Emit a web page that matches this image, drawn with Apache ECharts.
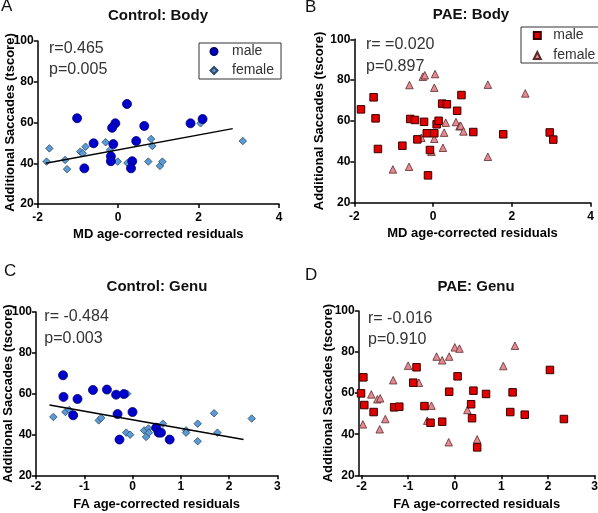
<!DOCTYPE html>
<html>
<head>
<meta charset="utf-8">
<script src="https://cdn.jsdelivr.net/npm/echarts@6/dist/echarts.min.js"></script>
<style>html,body{margin:0;padding:0;background:#fff}#c{width:598px;height:513px}</style>
</head>
<body>
<div id="c"></div>
<script>
// ---- data (x = residual, y = tscore) ----
const ctrlBodyMale = [[0.22,69.1],[-1.02,62.1],[-0.07,59.6],[-0.15,57.4],[0.65,58.3],[1.80,59.6],[2.10,61.7],[-0.61,49.8],[-0.12,49.4],[0.45,50.9],[-0.18,43.4],[-0.18,41.0],[0.35,41.0],[-0.84,37.5],[0.32,37.5]];
const ctrlBodyFemale = [[-1.71,47.3],[-1.78,40.8],[-1.32,41.6],[-1.27,37.1],[-0.94,45.7],[-0.88,44.9],[-0.81,48.1],[-0.31,50.3],[-0.20,46.5],[-0.01,40.8],[0.23,40.1],[0.75,40.8],[0.82,51.9],[0.85,48.5],[1.04,38.7],[1.10,40.8],[2.05,59.6],[3.10,50.9]];
const paeBodyMale = [[-1.83,65.7],[-1.51,71.6],[-1.46,61.3],[-1.40,46.3],[-0.78,47.9],[-0.58,61.0],[-0.46,60.5],[-0.23,59.6],[-0.40,51.0],[-0.16,54.0],[0.03,54.0],[-0.08,45.8],[0.09,58.4],[0.14,60.1],[0.23,68.5],[0.35,68.2],[0.61,65.0],[0.72,72.7],[1.02,54.6],[1.78,53.5],[2.96,54.4],[3.05,50.9],[-0.13,33.4]];
const paeBodyFemale = [[-1.02,36.3],[-0.61,37.6],[-0.60,77.6],[-0.26,81.7],[-0.21,82.4],[0.05,83.0],[0.03,76.3],[-0.30,51.8],[0.03,51.3],[-0.04,44.9],[0.25,46.9],[0.28,54.3],[0.32,59.2],[0.58,59.5],[0.67,57.4],[0.70,57.7],[0.77,54.9],[1.39,77.8],[1.39,42.5],[2.34,73.5]];
const ctrlGenuMale = [[-1.44,69.0],[-1.43,58.4],[-1.14,57.4],[-1.23,49.4],[-0.82,61.8],[-0.53,62.0],[-0.34,59.5],[-0.18,59.8],[-0.31,50.0],[0.00,51.0],[-0.27,37.5],[0.49,43.3],[0.54,40.9],[0.59,40.9],[0.77,37.5]];
const ctrlGenuFemale = [[-1.64,48.6],[-1.39,51.0],[-1.31,52.0],[-0.70,46.9],[-0.65,48.1],[-0.11,60.0],[-0.13,40.9],[-0.05,39.9],[0.24,42.0],[0.28,38.8],[0.33,42.9],[0.34,40.9],[0.63,45.3],[1.11,42.0],[1.11,40.9],[1.35,45.3],[1.35,36.7],[1.69,50.4],[1.76,40.9],[2.47,47.8]];
const paeGenuMale = [[-1.96,67.7],[-2.01,59.9],[-1.94,54.2],[-1.74,50.8],[-1.30,53.1],[-1.19,53.4],[-0.82,72.6],[-0.89,65.1],[-0.65,53.7],[-0.52,45.6],[-0.27,46.1],[-0.12,60.7],[0.06,68.2],[0.40,61.2],[0.35,54.6],[0.37,47.8],[0.67,59.6],[0.48,33.6],[1.24,60.4],[1.19,50.8],[1.50,49.5],[2.04,71.3],[2.34,47.4]];
const paeGenuFemale = [[-1.97,44.8],[-1.61,42.4],[-1.79,59.4],[-1.66,57.0],[-1.60,57.5],[-1.49,47.4],[-1.32,66.3],[-1.00,73.4],[-0.77,65.1],[-0.50,53.9],[-0.59,46.6],[-0.39,77.8],[-0.27,76.0],[-0.12,77.8],[0.00,82.3],[0.10,81.7],[0.27,51.8],[-0.13,36.1],[0.48,37.5],[1.04,73.2],[1.29,83.1]];
const fitCtrlBody = [[-1.8,40.0],[2.85,57.0]];
const fitCtrlGenu = [[-1.72,54.4],[2.30,37.5]];
const yTicks = [20,40,60,80,100];
const xTicksGenuPae = [-2,-1,0,1,2,3];
const panelTitles = ['Control: Body','PAE: Body','Control: Genu','PAE: Genu'];
const panelLetters = ['A','B','C','D'];
const statR = ['r=0.465','r= =0.020','r= -0.484','r= -0.016'];
const statP = ['p=0.005','p=0.897','p=0.003','p=0.910'];
const xNames = ['MD age-corrected residuals','MD age-corrected residuals','FA age-corrected residuals','FA age-corrected residuals'];
const yName = 'Additional Saccades (tscore)';

const FONT = '"Liberation Sans", Arial, sans-serif';
const grids = [
  {left:37.7, top:41, width:241.3, height:163},
  {left:354.3, top:39.3, width:236.4, height:163.4},
  {left:36, top:312, width:241.3, height:163.3},
  {left:358.7, top:311, width:236, height:164.3}
].map(g => Object.assign({outerBoundsMode:'none', containLabel:false, show:false}, g));

const axisLine = {show:true, onZero:false, lineStyle:{color:'#000', width:1.5}};
const axisTick = {show:true, inside:false, length:4, lineStyle:{color:'#000', width:1.5}};
const lbl = {color:'#000', fontWeight:'bold', fontSize:12, fontFamily:FONT};
const nameStyle = {color:'#000', fontWeight:'bold', fontSize:13, fontFamily:FONT};

const xRanges = [[-2,4,2],[-2,4,2],[-2,3,1],[-2.06,3,1]];
const xAxes = xRanges.map((r,i) => {
  const a = {
    type:'value', gridIndex:i, min:r[0], max:r[1], interval:r[2],
    axisLine, axisTick:Object.assign({}, axisTick), splitLine:{show:false},
    axisLabel:Object.assign({margin:i<2?8:5}, lbl),
    name:xNames[i], nameLocation:'middle', nameGap:i<2?24:22.5, nameMoveOverlap:false, nameTextStyle:nameStyle
  };
  if (i === 3) {
    a.axisTick.customValues = xTicksGenuPae;
    a.axisLabel.customValues = xTicksGenuPae;
    delete a.interval;
  }
  return a;
});
const yGaps = [21, 28, 21, 24];
const yAxes = [0,1,2,3].map(i => ({
  type:'value', gridIndex:i, min:yTicks[0], max:yTicks[yTicks.length-1], interval:20,
  axisLine, axisTick, splitLine:{show:false},
  axisLabel:Object.assign({margin:4}, lbl),
  name:yName, nameLocation:'middle', nameRotate:90, nameGap:yGaps[i], nameMoveOverlap:false, nameTextStyle:nameStyle
}));

const maleCtrl = {symbol:'circle', symbolSize:9, itemStyle:{color:'#0000CC', borderColor:'#000070', borderWidth:0.8, opacity:1}};
const femCtrl = {symbol:'diamond', symbolSize:7.5, itemStyle:{color:'#5B9BD5', borderColor:'#2E4A66', borderWidth:0.8, opacity:1}};
const malePae = {symbol:'rect', symbolSize:7.5, itemStyle:{color:'#E00000', borderColor:'#3A0000', borderWidth:1, opacity:1}};
const femPae = {symbol:'triangle', symbolSize:7.5, itemStyle:{color:'#E58A92', borderColor:'#5A2A2A', borderWidth:0.8, opacity:1}};

function sc(name, idx, data, st){
  return Object.assign({type:'scatter', name, xAxisIndex:idx, yAxisIndex:idx, data, silent:true, animation:false}, st);
}
function fit(idx, data){
  return {type:'line', xAxisIndex:idx, yAxisIndex:idx, data, symbol:'none', silent:true, animation:false,
    lineStyle:{color:'#000', width:1.5}, z:5};
}
const series = [
  sc('A|female', 0, ctrlBodyFemale, femCtrl), sc('A|male', 0, ctrlBodyMale, maleCtrl), fit(0, fitCtrlBody),
  sc('B|female', 1, paeBodyFemale, femPae), sc('B|male', 1, paeBodyMale, malePae),
  sc('C|female', 2, ctrlGenuFemale, femCtrl), sc('C|male', 2, ctrlGenuMale, maleCtrl), fit(2, fitCtrlGenu),
  sc('D|female', 3, paeGenuFemale, femPae), sc('D|male', 3, paeGenuMale, malePae)
];

const legendBase = {orient:'vertical', borderColor:'#333', borderWidth:1, itemWidth:7, itemHeight:7, itemGap:4,
  selectedMode:false, formatter: n => n.split('|')[1]};
const legends = [
  Object.assign({}, legendBase, {left:199, top:43, padding:[1,7,1,10.5], data:['A|male','A|female'],
    textStyle:{color:'#333', fontSize:14, fontFamily:FONT, lineHeight:15, padding:[0,0,0,9.5]}}),
  Object.assign({}, legendBase, {left:521, top:27, padding:[1,4,0,11.8], itemGap:5, data:['B|male','B|female'],
    textStyle:{color:'#333', fontSize:14, fontFamily:FONT, lineHeight:15, padding:[0,0,0,7.5]}})
];

const titlePos = [[158,16],[471,15],[157,287],[476,286.5]];
const letterPos = [[1,6],[305,7.5],[4,271.5],[305,275]];
const rPos = [[49,48.3],[366,45],[44.3,317],[368,318.3]];
const pPos = [[49,70],[366,66.7],[44.3,338.7],[368,339.3]];
const graphic = [];
for (let i=0;i<4;i++){
  graphic.push({type:'text', x:titlePos[i][0], y:titlePos[i][1], silent:true,
    style:{text:panelTitles[i], font:'bold 15px '+FONT, fill:'#111', align:'center', verticalAlign:'middle'}});
  graphic.push({type:'text', x:letterPos[i][0], y:letterPos[i][1], silent:true,
    style:{text:panelLetters[i], font:'17px '+FONT, fill:'#111', align:'left', verticalAlign:'middle'}});
  graphic.push({type:'text', x:rPos[i][0], y:rPos[i][1], silent:true,
    style:{text:statR[i], font:'16px '+FONT, fill:'#333', align:'left', verticalAlign:'middle'}});
  graphic.push({type:'text', x:pPos[i][0], y:pPos[i][1], silent:true,
    style:{text:statP[i], font:'16px '+FONT, fill:'#333', align:'left', verticalAlign:'middle'}});
}

const chart = echarts.init(document.getElementById('c'), null, {renderer:'canvas'});
chart.setOption({
  backgroundColor:'#fff', animation:false,
  grid:grids, xAxis:xAxes, yAxis:yAxes, legend:legends, series, graphic
});
</script>
</body>
</html>
